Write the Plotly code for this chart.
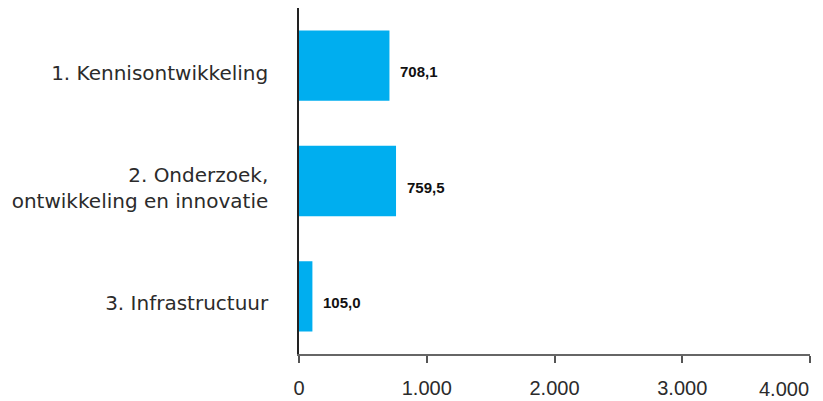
import plotly.graph_objects as go

categories = ["1. Kennisontwikkeling",
              "2. Onderzoek,<br>ontwikkeling en innovatie",
              "3. Infrastructuur"]
values = [708.1, 759.5, 105.0]
tick_values = [0, 1000, 2000, 3000, 4000]
tick_labels = ["0", "1.000", "2.000", "3.000", "4.000"]

BAR = "#00AEEF"
TXT = "#2b2b2b"
FONT_Y = "DejaVu Sans"
FONT_X = "Liberation Sans"

fig = go.Figure()
fig.add_trace(go.Bar(
    y=categories, x=values, orientation="h",
    marker=dict(color=BAR, line=dict(width=0)),
    hoverinfo="skip",
))

annotations = []
for c, v in zip(categories, values):
    annotations.append(dict(
        x=v, y=c, xref="x", yref="y", text=f"{v:.1f}".replace(".", ","),
        showarrow=False, xanchor="left", yanchor="middle", xshift=9, yshift=-6,
        font=dict(family=FONT_X, size=15, color="#111111", weight="bold"),
    ))
# last tick label is right-aligned to its tick so it stays inside the image
annotations.append(dict(
    x=tick_values[-1], y=0, xref="x", yref="paper", text=tick_labels[-1],
    showarrow=False, xanchor="right", yanchor="middle", yshift=-35, xshift=1,
    font=dict(family=FONT_X, size=20, color=TXT),
))

fig.update_layout(
    width=815, height=393,
    margin=dict(l=291, r=13, t=0, b=47),
    paper_bgcolor="white", plot_bgcolor="white",
    showlegend=False,
    bargap=0.39,
    annotations=annotations,
    xaxis=dict(
        range=[0, 4000], tickvals=tick_values,
        ticktext=tick_labels[:-1] + [""],
        showgrid=False, zeroline=False,
        showline=True, linecolor="#666666", linewidth=1.5,
        ticks="outside", ticklen=7, tickcolor="#555555", tickwidth=1.5,
        ticklabelstandoff=8,
        tickfont=dict(family=FONT_X, size=20, color=TXT),
        fixedrange=True, automargin=False,
    ),
    yaxis=dict(
        autorange="reversed",
        showgrid=False, zeroline=False,
        showline=True, linecolor="#222222", linewidth=1.5,
        ticks="", ticklabelstandoff=25, ticklabelshift=-7,
        tickfont=dict(family=FONT_Y, size=20, color=TXT),
        fixedrange=True, automargin=False,
    ),
)

fig.write_html("out.html")
